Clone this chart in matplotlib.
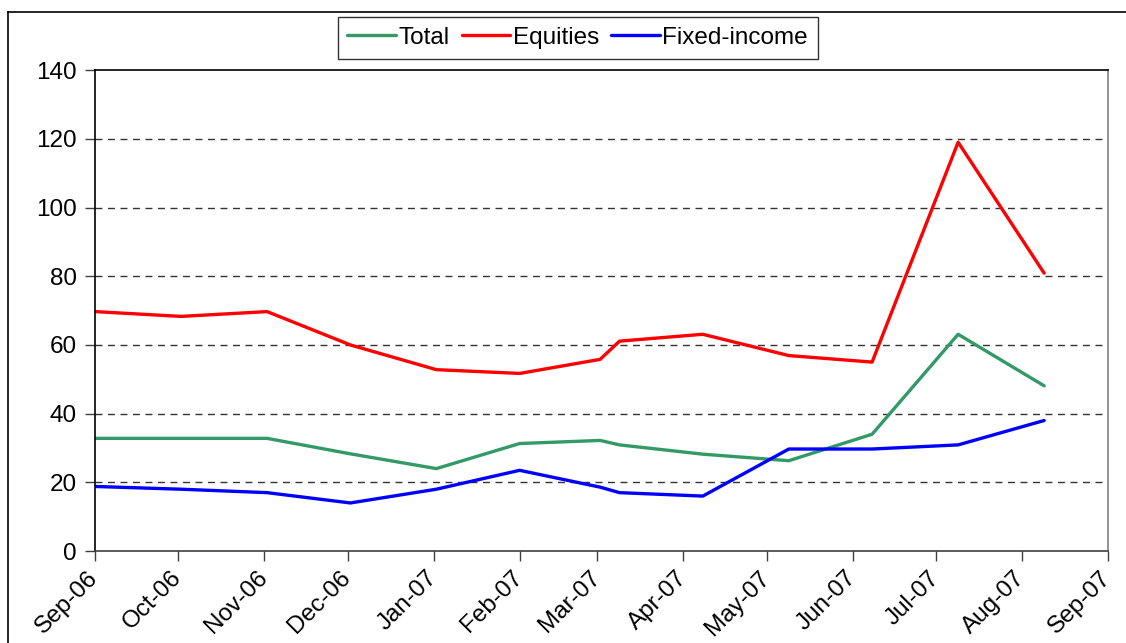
import pandas as pd
import matplotlib.pyplot as plt
import matplotlib.dates as mdates
from matplotlib.lines import Line2D

plt.rcParams['font.family'] = ['Liberation Sans', 'DejaVu Sans']

dates = pd.to_datetime(['2006-09-01', '2006-10-02', '2006-11-02', '2006-12-02', '2007-01-02',
                        '2007-02-01', '2007-03-02', '2007-03-09', '2007-04-08', '2007-05-09',
                        '2007-06-08', '2007-07-09', '2007-08-09'])
total = [32.8, 32.8, 32.8, 28.3, 24.0, 31.3, 32.2, 30.9, 28.2, 26.3, 34.0, 63.1, 48.1]
equities = [69.7, 68.3, 69.7, 60.0, 52.8, 51.7, 55.8, 61.1, 63.1, 56.9, 55.0, 119.0, 80.9]
fixed_income = [18.8, 18.0, 17.0, 14.0, 18.0, 23.5, 18.6, 17.0, 16.0, 29.7, 29.7, 30.9, 38.0]

names = ['Total', 'Equities', 'Fixed-income']
colors = ['#339966', '#FF0000', '#0000FF']

fig = plt.figure(figsize=(11.26, 6.43), dpi=100)
ax = fig.add_axes([0.0844, 0.143, 0.8996, 0.748])

for vals, name, c in zip([total, equities, fixed_income], names, colors):
    ax.plot(dates, vals, color=c, lw=2.4, label=name, solid_capstyle='round')

ax.set_ylim(0, 140)
ax.set_yticks(range(0, 141, 20))
ax.set_xlim(pd.Timestamp('2006-09-01'), pd.Timestamp('2007-09-01'))
ax.xaxis.set_major_locator(mdates.MonthLocator())
ax.xaxis.set_major_formatter(mdates.DateFormatter('%b-%y'))

for y in range(20, 140, 20):
    ax.axhline(y, color='#333333', lw=1, ls=(0, (5, 4)), zorder=0)

ax.tick_params(axis='both', labelsize=17.5, direction='out', length=7, width=1, color='#404040')
ax.tick_params(axis='x', pad=10)
ax.tick_params(axis='y', pad=6)
for lab in ax.get_xticklabels():
    lab.set_rotation(45)
    lab.set_ha('right')
    lab.set_va('center')
    lab.set_rotation_mode('anchor')

ax.spines['left'].set_color('black')
ax.spines['top'].set_color('black')
ax.spines['right'].set_color('#808080')
ax.spines['bottom'].set_color('#404040')
for s in ax.spines.values():
    s.set_linewidth(1.2)

leg = fig.legend(loc='center', bbox_to_anchor=(0.513, 0.941), ncol=3, fontsize=17.5,
                 frameon=True, fancybox=False, handlelength=2.0, handletextpad=0.1,
                 columnspacing=0.5, borderpad=0.4)
leg.get_frame().set_edgecolor('black')
leg.get_frame().set_linewidth(1)

# outer chart frame
fig.add_artist(Line2D([8 / 1126, 8 / 1126], [0, 1 - 12 / 643], color='black', lw=1.2))
fig.add_artist(Line2D([8 / 1126, 1], [1 - 12 / 643, 1 - 12 / 643], color='black', lw=1.2))

fig.savefig('out.png', dpi=100)
